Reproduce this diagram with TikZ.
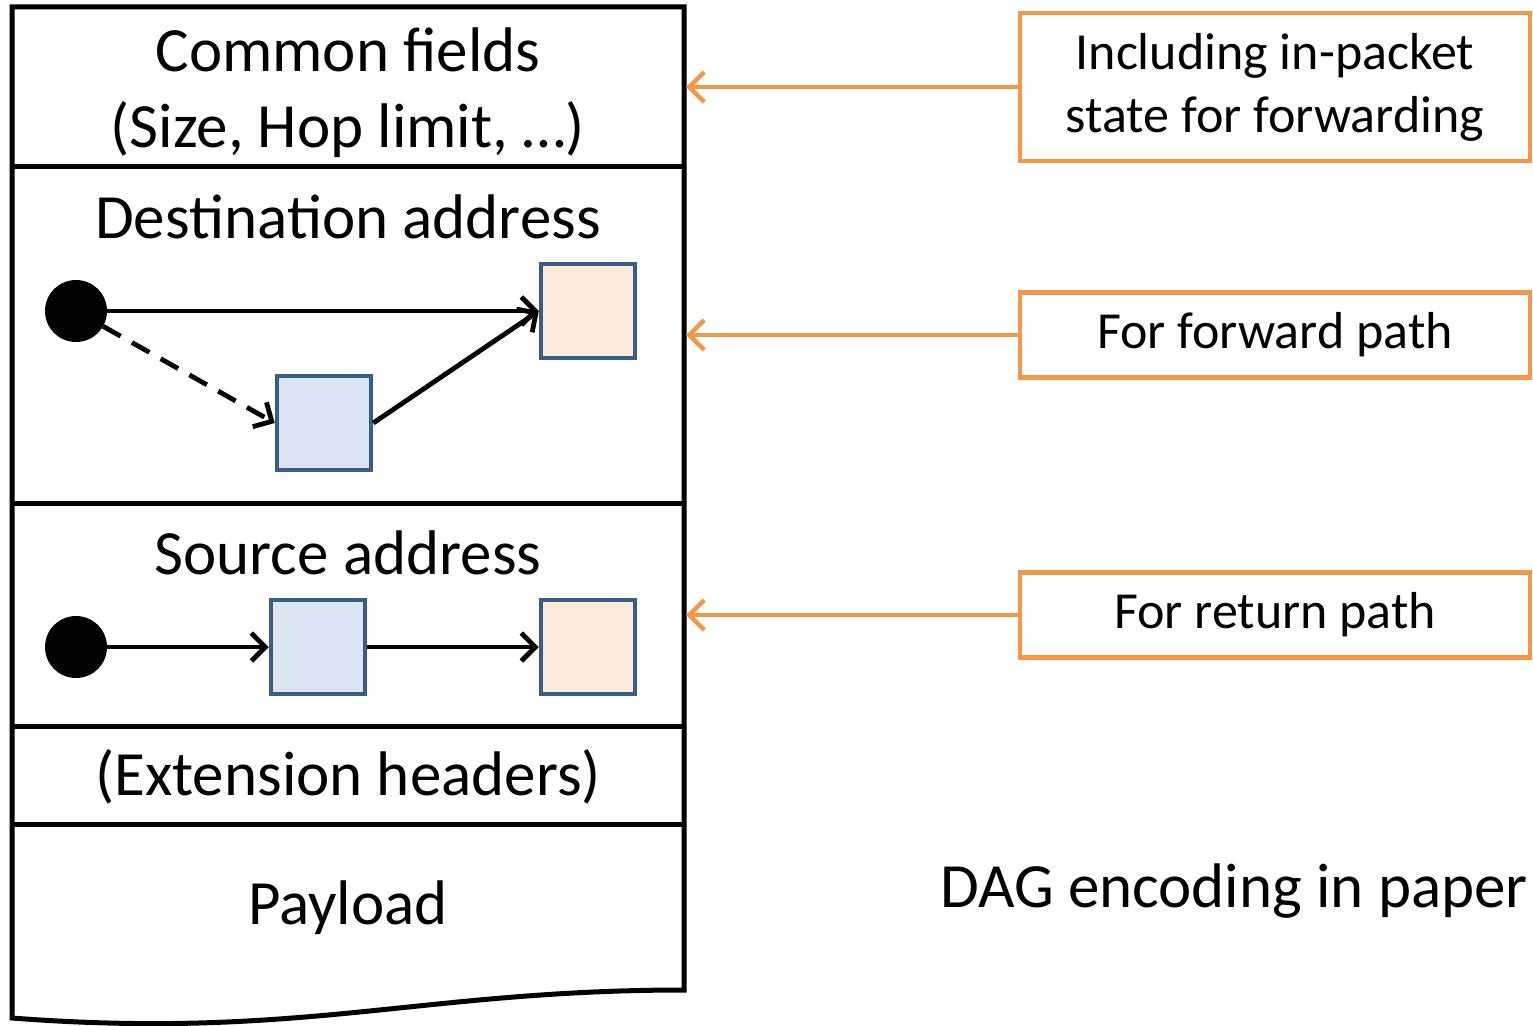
\documentclass[tikz,border=0pt]{standalone}
\usepackage{fontspec}
\setmainfont{Carlito}
\usetikzlibrary{arrows.meta}

\definecolor{hdrorange}{RGB}{247,150,70}
\definecolor{sqedge}{RGB}{56,93,138}
\definecolor{sqblue}{RGB}{220,230,242}
\definecolor{sqpeach}{RGB}{253,234,218}

\begin{document}
\begin{tikzpicture}[x=1pt,y=1pt,yscale=-1,xscale=1,
	bigtxt/.style={inner sep=0pt,font=\fontsize{63}{76}\selectfont},
	sidetxt/.style={inner sep=0pt,font=\fontsize{52}{63}\selectfont,align=center},
	hop/.style={circle,fill=black,inner sep=0pt,minimum size=62},
	hopsq/.style={draw=sqedge,line width=4.5,inner sep=0pt,minimum size=94},
	edge/.style={line width=4.8,-{Straight Barb[length=14,width=28]}},
	notebox/.style={draw=hdrorange,line width=4.5,inner sep=0pt,minimum width=510},
	notearrow/.style={draw=hdrorange,line width=4.5,-{Straight Barb[length=15,width=30]}}]
	\useasboundingbox (0,0) rectangle (1533,1025);

	%Shape: Header stack
	\draw [line width=5] (12,7) -- (684,7) -- (684,990) .. controls (420,990) and (300,1040) .. (12,1018) -- cycle ;
	%Straight Lines
	\draw [line width=5] (12,166) -- (684,166) ;
	\draw [line width=5] (12,503) -- (684,503) ;
	\draw [line width=5] (12,726) -- (684,726) ;
	\draw [line width=5] (12,824) -- (684,824) ;

	% Text Node
	\node (common) [bigtxt,align=center] at (348,93) {Common fields\\(Size, Hop limit, …)};
	% Text Node
	\node (dsttxt) [bigtxt] at (348,217) {Destination address};
	% Text Node
	\node (srctxt) [bigtxt] at (348,553) {Source address};
	% Text Node
	\node (exttxt) [bigtxt] at (348,777) {(Extension headers)};
	% Text Node
	\node (paytxt) [bigtxt] at (348,908) {Payload};

	%Destination DAG
	\node (dsrc) [hop] at (76,311) {};
	\node (dblue) [hopsq,fill=sqblue] at (324,423) {};
	\node (dpeach) [hopsq,fill=sqpeach] at (588,311) {};
	\draw [edge] (dsrc) -- (dpeach) ;
	\draw [edge,dash pattern=on 20 off 13] (dsrc) -- (dblue.west) ;
	\draw [edge] (dblue.east) -- (dpeach.west) ;

	%Source DAG
	\node (ssrc) [hop] at (76,647) {};
	\node (sblue) [hopsq,fill=sqblue] at (318,647) {};
	\node (speach) [hopsq,fill=sqpeach] at (588,647) {};
	\draw [edge] (ssrc) -- (sblue) ;
	\draw [edge] (sblue) -- (speach) ;

	%Side notes
	\coordinate (commonin) at (686,87);
	\coordinate (dstin) at (686,335);
	\coordinate (srcin) at (686,615);
	\node (statebox) [notebox,minimum height=148] at (1275,87) {};
	\node [sidetxt] at (statebox) {Including in-packet\\state for forwarding};
	\node (fwdbox) [notebox,minimum height=85] at (1275,335) {};
	\node [sidetxt] at (fwdbox) {For forward path};
	\node (retbox) [notebox,minimum height=85] at (1275,615) {};
	\node [sidetxt] at (retbox) {For return path};
	\draw [notearrow] (statebox.west) -- (commonin) ;
	\draw [notearrow] (fwdbox.west) -- (dstin) ;
	\draw [notearrow] (retbox.west) -- (srcin) ;

	% Text Node
	\node (caption) [bigtxt,anchor=west] at (940,891) {DAG encoding in paper};
\end{tikzpicture}
\end{document}
